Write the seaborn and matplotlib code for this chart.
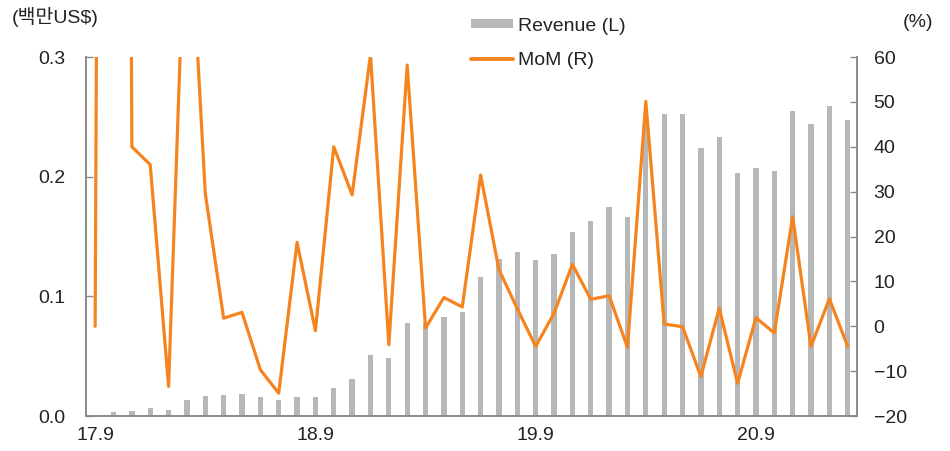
import numpy as np
import pandas as pd
import matplotlib.pyplot as plt
import seaborn as sns
from matplotlib.patches import Patch
from matplotlib.lines import Line2D

# --- data (monthly, 17.9 onward) ---
revenue = [0.0003, 0.003, 0.004, 0.0067, 0.005, 0.013, 0.017, 0.0175, 0.018, 0.016,
           0.0136, 0.016, 0.016, 0.0237, 0.0306, 0.051, 0.0487, 0.078, 0.0774, 0.0827,
           0.0866, 0.116, 0.131, 0.1367, 0.130, 0.135, 0.154, 0.163, 0.175, 0.1665,
           0.25, 0.2523, 0.2523, 0.2236, 0.2328, 0.2033, 0.2072, 0.2047, 0.2548, 0.2439,
           0.2587, 0.2473]
mom = [0.0, 900.0, 40.0, 36.0, -13.4, 104.0, 29.6, 1.8, 3.1, -9.7,
       -14.9, 18.7, -1.0, 40.0, 29.3, 60.5, -4.1, 58.2, -0.4, 6.4,
       4.3, 33.7, 12.6, 3.9, -4.5, 2.9, 13.8, 6.0, 6.8, -4.7,
       50.1, 0.5, -0.1, -11.2, 4.0, -12.7, 1.9, -1.5, 24.4, -4.5,
       6.1, -4.5]
tick_labels = ["17.9", "18.9", "19.9", "20.9"]
tick_months = [0, 12, 24, 36]

df = pd.DataFrame({"m": np.arange(len(revenue)), "revenue": revenue, "mom": mom})

sns.set_style("white")
plt.rcParams['font.family'] = ['Liberation Sans', 'Noto Sans CJK KR', 'DejaVu Sans']
plt.rcParams['axes.unicode_minus'] = True

BAR = "#b6b7b9"
ORANGE = "#f5841f"
SPINE = "#8a8a8a"
TXT = "#222222"
FS = 14

fig = plt.figure(figsize=(9.5, 4.51), dpi=100)
ax = fig.add_axes([0.0905, 0.0776, 0.8115, 0.796])

sns.barplot(data=df, x="m", y="revenue", color=BAR, width=0.29, ax=ax,
            saturation=1, edgecolor="none")
ax.set_ylim(0, 0.3)
ax.set_yticks([0.0, 0.1, 0.2, 0.3])
ax.set_yticklabels(["0.0", "0.1", "0.2", "0.3"])
ax.set_xlim(-0.5, len(revenue) - 0.5)

ax2 = ax.twinx()
sns.lineplot(data=df, x="m", y="mom", color=ORANGE, lw=2.3, ax=ax2)
ax2.set_ylim(-20, 60)
ax2.set_yticks(range(-20, 61, 10))
ax2.set_xlim(-0.5, len(revenue) - 0.5)

# x ticks: labels on category centre, tick marks on boundaries
ax.set_xticks(tick_months)
ax.set_xticklabels(tick_labels)
ax.set_xticks([t - 0.5 for t in tick_months], minor=True)
ax.tick_params(axis="x", which="major", length=0, pad=8, labelsize=FS, colors=TXT)
ax.tick_params(axis="x", which="minor", direction="in", length=5, width=1, color=SPINE)
ax.tick_params(axis="y", direction="in", length=5, width=1, color=SPINE, pad=15,
               labelsize=FS, labelcolor=TXT)
ax2.tick_params(axis="y", direction="in", length=5, width=1, color=SPINE, pad=12,
                labelsize=FS, labelcolor=TXT)

for a in (ax, ax2):
    a.set_xlabel("")
    a.set_ylabel("")
    a.spines["top"].set_visible(False)
    for s in ("left", "right", "bottom"):
        a.spines[s].set_color(SPINE)
        a.spines[s].set_linewidth(1.2)

fig.text(0.012, 0.963, "(백만US$)", fontsize=FS, color=TXT, va="center", ha="left")
fig.text(0.982, 0.95, "(%)", fontsize=FS, color=TXT, va="center", ha="right")

handles = [Patch(facecolor=BAR, edgecolor="none"), Line2D([], [], color=ORANGE, lw=2.8)]
fig.legend(handles, ["Revenue (L)", "MoM (R)"], loc="upper left",
           bbox_to_anchor=(0.4955, 0.961), frameon=False, fontsize=FS,
           handlelength=2.15, handleheight=0.35, handletextpad=0.3,
           labelspacing=0.9, borderpad=0, borderaxespad=0, labelcolor=TXT)

fig.savefig("out.png", dpi=100)
